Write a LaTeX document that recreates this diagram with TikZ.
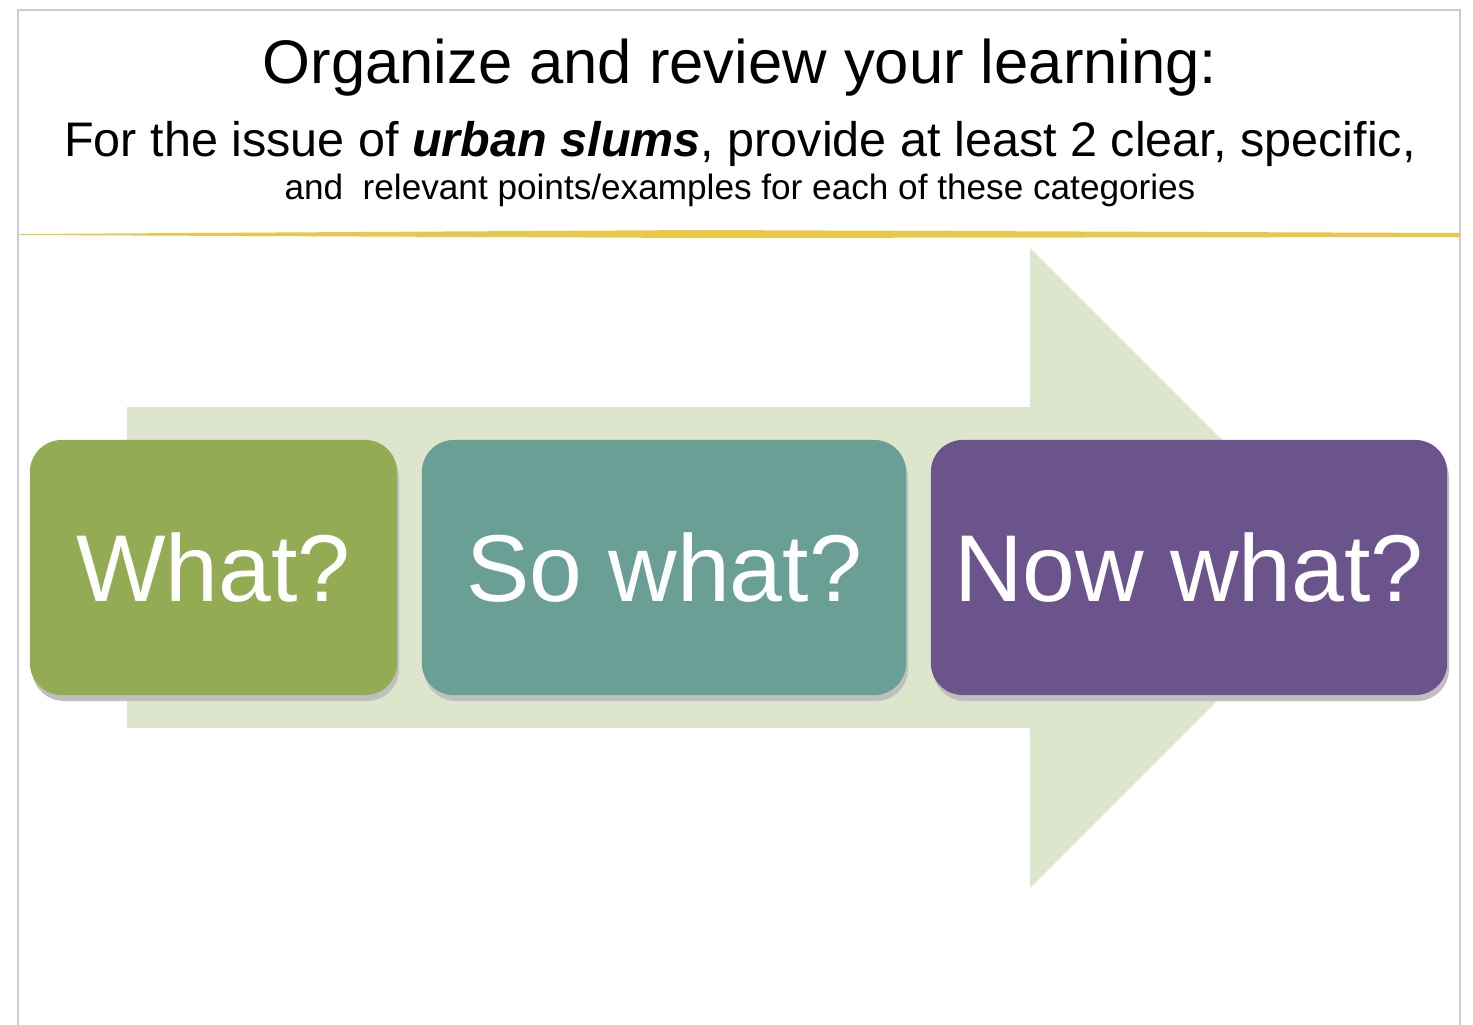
\documentclass[tikz,border=0pt]{standalone}
\usepackage{fontspec}
\setmainfont{Liberation Sans}
\definecolor{arrowGreen}{HTML}{DDE5CD}
\definecolor{whatGreen}{HTML}{93AB52}
\definecolor{soTeal}{HTML}{6A9F96}
\definecolor{nowPurple}{HTML}{6B538C}
\definecolor{goldLine}{HTML}{E8C84A}
\tikzstyle{stepBox}=[rounded corners=0.32cm,minimum height=2.55cm,text=white,font=\fontsize{27}{30}\selectfont,inner sep=0pt]
\tikzstyle{boxShadow}=[rounded corners=0.32cm,fill=black!25]
\begin{document}
\begin{tikzpicture}[x=0.01cm,y=-0.01cm]
        \useasboundingbox (0,0) rectangle (1473,1024);
        % slide frame
        \draw[gray!40,thin] (18,1030) -- (18,10) -- (1460,10) -- (1460,1030);
        % title
        \node (title) at (740,68) {\fontsize{17.5}{20}\selectfont Organize and review your learning:};
        \node[align=center] (sub) at (740,164) {\fontsize{13.8}{16.6}\selectfont For the issue of \textbf{\textit{urban slums}}, provide at least 2 clear, specific,\\ and\ \ relevant points/examples for each of these categories};
        \fill[goldLine] (20,234) -- (700,230) -- (1460,233) -- (1460,237) -- (700,238) -- (20,235) -- cycle;
        % big arrow
        \fill[arrowGreen] (127,407) -- (1030,407) -- (1030,248) -- (1350,568) -- (1030,888) -- (1030,728) -- (127,728) -- cycle;
        % shadows
        \fill[boxShadow] (32,446) rectangle (399,701);
        \fill[boxShadow] (424,446) rectangle (908,701);
        \fill[boxShadow] (933,446) rectangle (1449,701);
        % boxes
        \node[stepBox,fill=whatGreen,minimum width=3.67cm] (what) at (213.5,567.5) {What?};
        \node[stepBox,fill=soTeal,minimum width=4.84cm] (sowhat) at (664,567.5) {So what?};
        \node[stepBox,fill=nowPurple,minimum width=5.16cm] (nowwhat) at (1189,567.5) {Now what?};
\end{tikzpicture}
\end{document}
